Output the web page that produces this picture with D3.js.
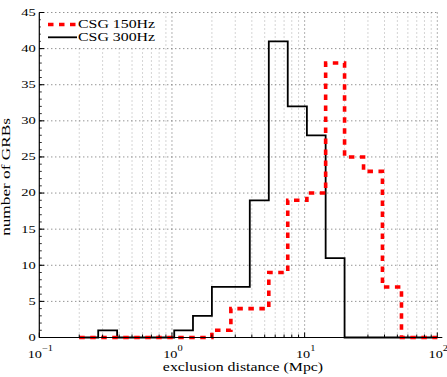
<!DOCTYPE html>
<html>
<head>
<meta charset="utf-8">
<script src="https://cdn.jsdelivr.net/npm/d3@7/dist/d3.min.js"></script>
<style>
  body { margin: 0; background: #fff; }
  text { font-family: "Liberation Serif", "DejaVu Serif", serif; fill: #000; }
</style>
</head>
<body>
<div id="chart"></div>
<script>
// bin edges (Mpc), log spaced
var binEdges = [0.2, 0.278, 0.386, 0.536, 0.745, 1.04, 1.44, 2.0, 2.78, 3.86, 5.37, 7.46, 10.4, 14.4, 20.0, 27.8, 38.6, 53.7, 74.6, 100];
var counts150 = [0, 0, 0, 0, 0, 0, 0, 1, 4, 4, 9, 19, 20, 38, 25, 23, 7, 0, 0];
var counts300 = [0, 1, 0, 0, 0, 1, 3, 7, 7, 19, 41, 32, 28, 11, 0, 0, 0, 0, 0];
var seriesNames = ["CSG 150Hz", "CSG 300Hz"];
var yTicks = [0, 5, 10, 15, 20, 25, 30, 35, 40, 45];
var xDecades = [-1, 0, 1, 2];

var width = 447, height = 377;
var margin = {top: 12.5, right: 9.7, bottom: 39.5, left: 39.3};
var sx = 1.38; // the reference text is drawn wide

var svg = d3.select("#chart").append("svg")
    .attr("width", width)
    .attr("height", height);

var x = d3.scaleLog()
    .domain([0.1, 100])
    .range([margin.left, width - margin.right]);
var y = d3.scaleLinear()
    .domain([0, 45])
    .range([height - margin.bottom, margin.top]);

var y0 = y(0);

// minor x grid
var minorX = [];
xDecades.slice(0, 3).forEach(function(p) {
  for (var k = 2; k <= 9; k++) minorX.push(k * Math.pow(10, p));
});

var grid = svg.append("g");
grid.selectAll(".minx").data(minorX).enter().append("line")
    .attr("x1", function(d) { return x(d); })
    .attr("x2", function(d) { return x(d); })
    .attr("y1", y(45)).attr("y2", y0)
    .attr("stroke", "#aaa").attr("stroke-width", 1)
    .attr("stroke-dasharray", "1,3");
grid.selectAll(".majx").data(xDecades.slice(1)).enter().append("line")
    .attr("x1", function(d) { return x(Math.pow(10, d)); })
    .attr("x2", function(d) { return x(Math.pow(10, d)); })
    .attr("y1", y(45)).attr("y2", y0)
    .attr("stroke", "#666").attr("stroke-width", 1)
    .attr("stroke-dasharray", "1,3");
grid.selectAll(".majy").data(yTicks.slice(1)).enter().append("line")
    .attr("x1", margin.left).attr("x2", width - margin.right)
    .attr("y1", function(d) { return y(d); })
    .attr("y2", function(d) { return y(d); })
    .attr("stroke", "#666").attr("stroke-width", 1)
    .attr("stroke-dasharray", "1,3");

// stairs
function stairPoints(counts) {
  var pts = counts.map(function(c, i) { return [binEdges[i], c]; });
  pts.push([binEdges[counts.length], counts[counts.length - 1]]);
  return pts;
}
var stair = d3.line()
    .x(function(d) { return x(d[0]); })
    .y(function(d) { return y(d[1]); })
    .curve(d3.curveStepAfter);

svg.append("path")
    .attr("d", stair(stairPoints(counts300)))
    .attr("fill", "none").attr("stroke", "#000").attr("stroke-width", 1.8);
svg.append("path")
    .attr("d", stair(stairPoints(counts150)))
    .attr("fill", "none").attr("stroke", "#ff0000").attr("stroke-width", 3.6)
    .attr("stroke-dasharray", "5.5,5.5");

// axes lines
svg.append("line")
    .attr("x1", margin.left).attr("x2", width - margin.right + 5)
    .attr("y1", y0).attr("y2", y0)
    .attr("stroke", "#000").attr("stroke-width", 1.2);
svg.append("line")
    .attr("x1", margin.left).attr("x2", margin.left)
    .attr("y1", y0).attr("y2", y(45))
    .attr("stroke", "#000").attr("stroke-width", 1.2);

// x ticks (inward)
svg.selectAll(".xminor").data(minorX).enter().append("line")
    .attr("x1", function(d) { return x(d); })
    .attr("x2", function(d) { return x(d); })
    .attr("y1", y0).attr("y2", y0 - 3)
    .attr("stroke", "#000");
svg.selectAll(".xmajor").data(xDecades).enter().append("line")
    .attr("x1", function(d) { return x(Math.pow(10, d)); })
    .attr("x2", function(d) { return x(Math.pow(10, d)); })
    .attr("y1", y0).attr("y2", y0 - 5)
    .attr("stroke", "#000");

// y ticks (inward), minor every unit
svg.selectAll(".yminor").data(d3.range(0, 46)).enter().append("line")
    .attr("x1", margin.left).attr("x2", margin.left + 2.5)
    .attr("y1", function(d) { return y(d); })
    .attr("y2", function(d) { return y(d); })
    .attr("stroke", "#000").attr("stroke-width", 0.8);
svg.selectAll(".ymajor").data(yTicks).enter().append("line")
    .attr("x1", margin.left).attr("x2", margin.left + 5)
    .attr("y1", function(d) { return y(d); })
    .attr("y2", function(d) { return y(d); })
    .attr("stroke", "#000");

// y tick labels
svg.selectAll(".ylab").data(yTicks).enter().append("text")
    .attr("transform", function(d) { return "translate(" + (margin.left - 3.5) + "," + y(d) + ") scale(1.32,1)"; })
    .attr("text-anchor", "end")
    .attr("dominant-baseline", "central")
    .style("font-size", "11px")
    .text(function(d) { return d; });

// x tick labels 10^p
var xl = svg.selectAll(".xlab").data(xDecades).enter().append("text")
    .attr("transform", function(d) { return "translate(" + (x(Math.pow(10, d)) + 1) + "," + 358 + ") scale(1.3,1)"; })
    .attr("text-anchor", "middle")
    .style("font-size", "11px");
xl.append("tspan").text("10");
xl.append("tspan")
    .attr("dy", -7)
    .style("font-size", "8px")
    .text(function(d) { return d < 0 ? "\u2212" + (-d) : d; });

// axis titles
svg.append("text")
    .attr("transform", "translate(" + 243 + "," + 371 + ") scale(" + sx + ",1)")
    .attr("text-anchor", "middle")
    .style("font-size", "11.5px")
    .text("exclusion distance (Mpc)");
svg.append("text")
    .attr("transform", "translate(" + 9.5 + "," + 177 + ") rotate(-90) scale(" + 1.5 + ",1)")
    .attr("text-anchor", "middle")
    .style("font-size", "11.5px")
    .text("number of GRBs");

// legend
var leg = svg.append("g");
leg.append("rect")
    .attr("x", margin.left + 1.5).attr("y", y(45) + 1.5)
    .attr("width", 120).attr("height", 32)
    .attr("fill", "#fff");
var legItems = [
  {name: seriesNames[0], color: "#ff0000", w: 3.6, dash: "5.5,5.5", yy: 24.5},
  {name: seriesNames[1], color: "#000", w: 1.8, dash: null, yy: 37.3}
];
legItems.forEach(function(d) {
  leg.append("line")
      .attr("x1", 48).attr("x2", 77)
      .attr("y1", d.yy).attr("y2", d.yy)
      .attr("stroke", d.color).attr("stroke-width", d.w)
      .attr("stroke-dasharray", d.dash);
  leg.append("text")
      .attr("transform", "translate(78," + d.yy + ") scale(" + sx + ",1)")
      .attr("dominant-baseline", "central")
      .style("font-size", "11.5px")
      .text(d.name);
});
</script>
</body>
</html>
